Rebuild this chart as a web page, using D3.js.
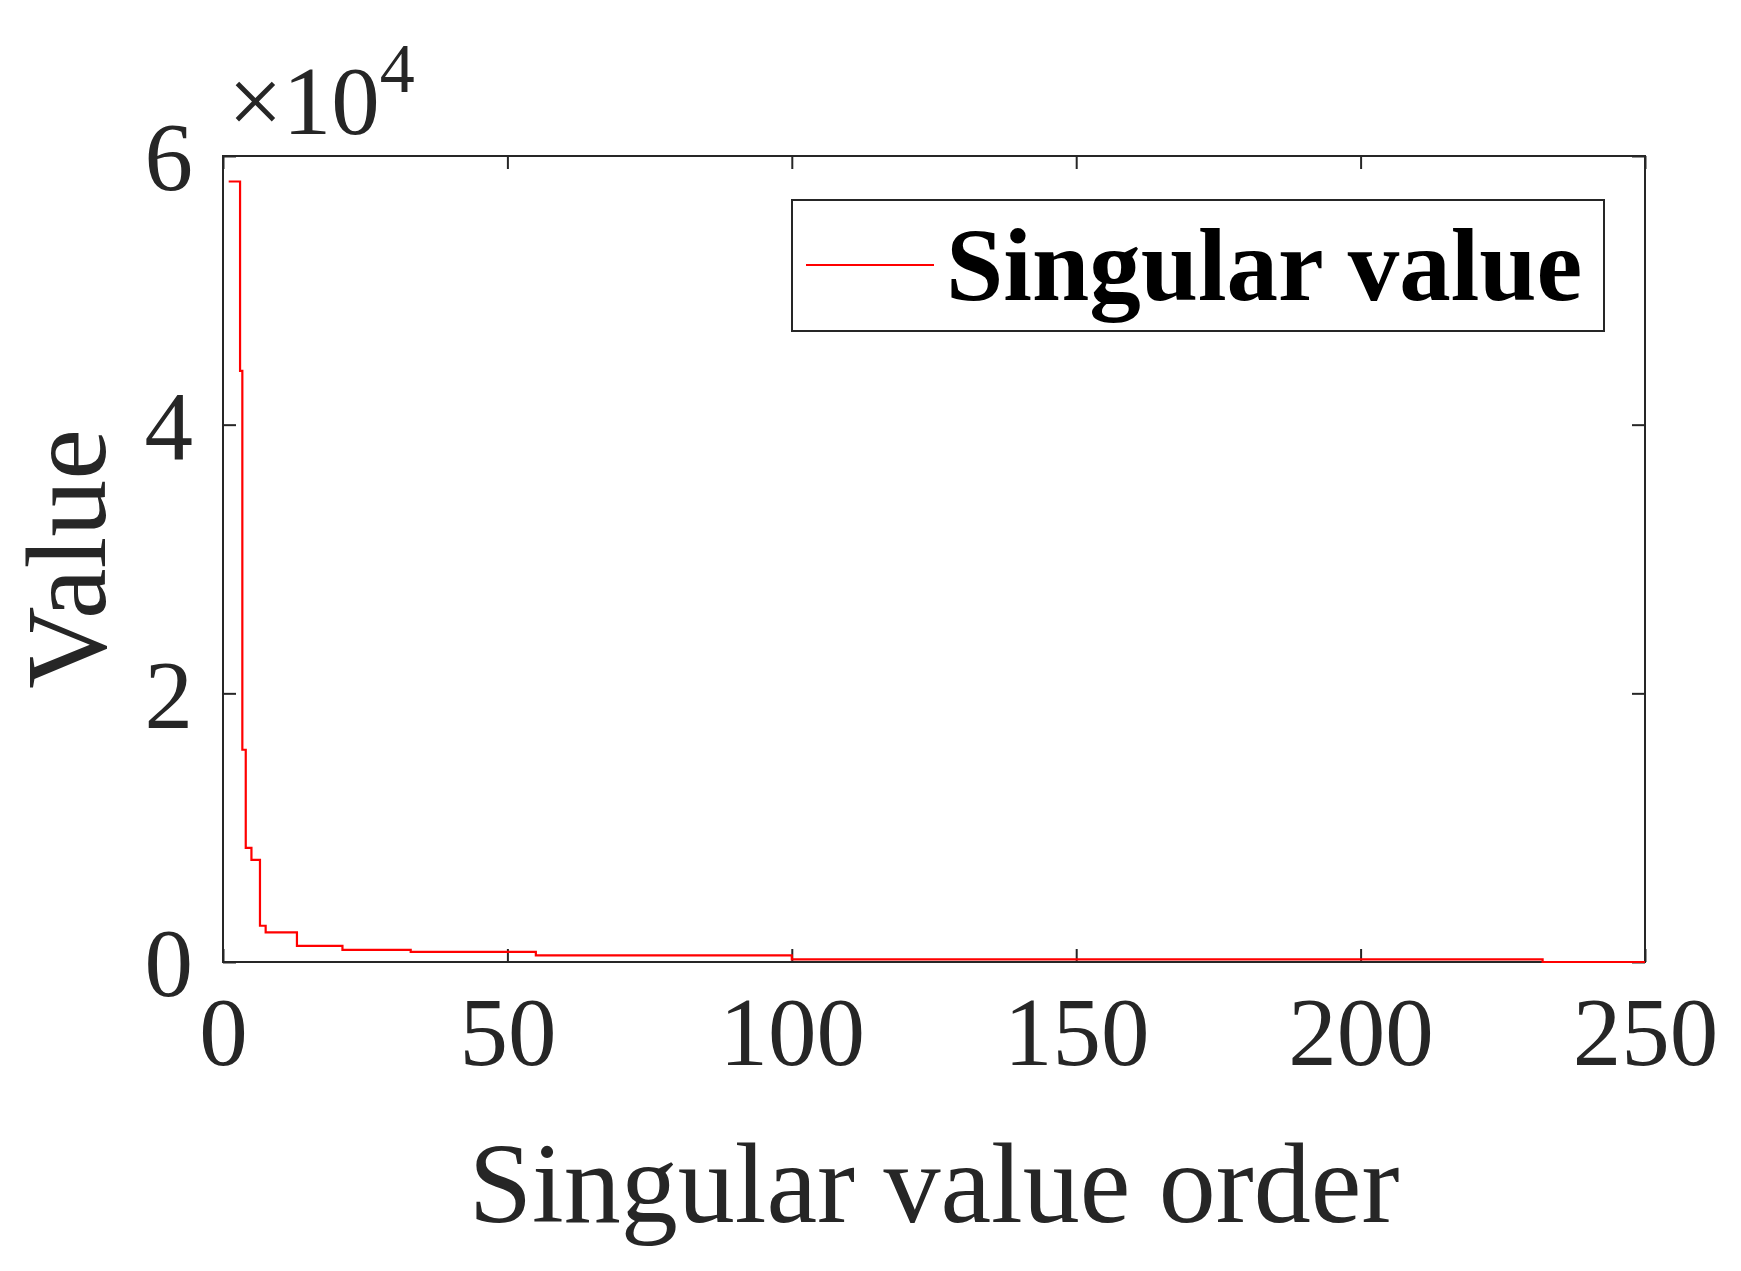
<!DOCTYPE html>
<html><head><meta charset="utf-8">
<script src="https://cdn.jsdelivr.net/npm/d3@7"></script>
<style>body{margin:0;background:#fff}</style></head>
<body><svg id="c" width="1741" height="1271"></svg>
<script>
const order = [1, 3, 3.4, 4, 5, 6.5, 7.5, 13, 21, 33, 55, 100, 232, 250];
const values = [58100, 44000, 15800, 8500, 7600, 2700, 2200, 1200, 900, 750, 500, 200, 0, 0];
const xTicks = [0, 50, 100, 150, 200, 250];
const yTicks = [0, 2, 4, 6];
const seriesName = "Singular value";

const svg = d3.select("#c");
const L = 223, R = 1645, T = 156, B = 962;
const x = d3.scaleLinear().domain([0, 250]).range([L, R]);
const y = d3.scaleLinear().domain([0, 6]).range([B, T]);
const ax = "#262626", font = "'Liberation Serif', 'Times New Roman', serif";

svg.append("rect").attr("x", L).attr("y", T).attr("width", R - L).attr("height", B - T)
  .attr("fill", "none").attr("stroke", ax).attr("stroke-width", 2);

const tl = 13;
const gx = svg.append("g").attr("transform", `translate(0,${B})`)
  .call(d3.axisBottom(x).tickValues(xTicks).tickSize(-tl).tickPadding(30).tickFormat(d3.format("d")));
const gxt = svg.append("g").attr("transform", `translate(0,${T})`)
  .call(d3.axisTop(x).tickValues(xTicks).tickSize(-tl).tickFormat(""));
const gy = svg.append("g").attr("transform", `translate(${L},0)`)
  .call(d3.axisLeft(y).tickValues(yTicks).tickSize(-tl).tickPadding(30).tickFormat(d3.format("d")));
const gyr = svg.append("g").attr("transform", `translate(${R},0)`)
  .call(d3.axisRight(y).tickValues(yTicks).tickSize(-tl).tickFormat(""));
[gx, gxt, gy, gyr].forEach(g => {
  g.select(".domain").remove();
  g.selectAll("line").attr("stroke", ax).attr("stroke-width", 2);
  g.selectAll("text").attr("fill", ax).attr("font-family", font).attr("font-size", 97);
});
gx.selectAll("text").attr("dy", "0.75em");
gy.selectAll("text").attr("dy", "0.35em");

const pts = order.map((o, i) => [o, values[i] / 1e4]);
svg.append("path").datum(pts)
  .attr("d", d3.line().x(d => x(d[0])).y(d => y(d[1])).curve(d3.curveStepAfter))
  .attr("fill", "none").attr("stroke", "#ff0000").attr("stroke-width", 2.2);

// exponent label
const ex = svg.append("text").attr("x", 228).attr("y", 134).attr("font-family", font)
  .attr("font-size", 97).attr("fill", ax);
ex.append("tspan").text("×10");
ex.append("tspan").attr("font-size", 70).attr("dy", -42).text("4");

// axis titles
svg.append("text").attr("x", (L + R) / 2).attr("y", 1222).attr("text-anchor", "middle")
  .attr("font-family", font).attr("font-size", 114).attr("fill", ax).text("Singular value order");
svg.append("text").attr("transform", `translate(105,${(T + B) / 2}) rotate(-90)`)
  .attr("text-anchor", "middle").attr("font-family", font).attr("font-size", 114)
  .attr("fill", ax).text("Value");

// legend
svg.append("rect").attr("x", 792).attr("y", 200).attr("width", 812).attr("height", 131)
  .attr("fill", "#fff").attr("stroke", ax).attr("stroke-width", 2);
svg.append("line").attr("x1", 806).attr("x2", 934).attr("y1", 265).attr("y2", 265)
  .attr("stroke", "#ff0000").attr("stroke-width", 2.2);
svg.append("text").attr("x", 946).attr("y", 300).attr("font-family", font)
  .attr("font-weight", "bold").attr("font-size", 103).attr("fill", "#000").text(seriesName);
</script></body></html>
